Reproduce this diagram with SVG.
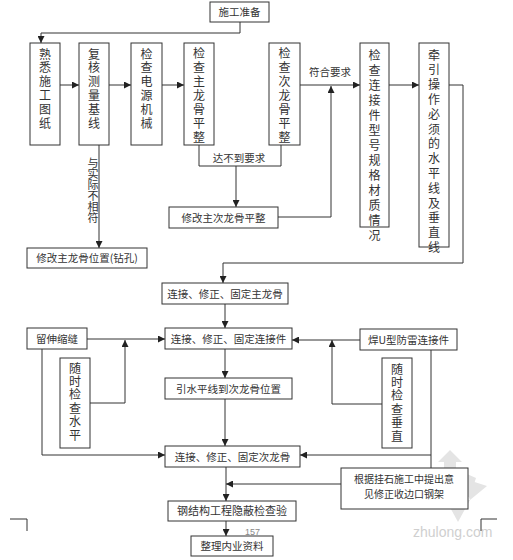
<svg xmlns="http://www.w3.org/2000/svg" width="513" height="560" viewBox="0 0 513 560">
<style>
.box{fill:#fff;stroke:#333;stroke-width:1}
.ln{fill:none;stroke:#333;stroke-width:1}
.arr{marker-end:url(#ah)}
text{font-family:"Noto Sans CJK SC","Liberation Sans",sans-serif;fill:#333}
.h{font-size:10.5px;text-anchor:middle}
.v{font-size:12px;writing-mode:vertical-rl;text-anchor:start}
.lbl{font-size:10.5px;text-anchor:middle}
.wm{font-family:"Liberation Sans",sans-serif;font-size:14px;fill:#cfcfcf}
</style>
<defs>
<marker id="ah" viewBox="0 0 8 8" refX="8" refY="4" markerWidth="7" markerHeight="7" markerUnits="userSpaceOnUse" orient="auto">
<path d="M0,0 L8,4 L0,8 z" fill="#222"/>
</marker>
</defs>
<rect width="513" height="560" fill="#fff"/>
<g id="watermark" fill="#e4e4e4">
<polygon points="450,450 462,462 456,462 456,474 444,474 444,462 438,462"/>
<polygon points="440,478 458,470 476,478 470,496 458,504 446,496"/>
<polygon points="462,478 487,486 470,500"/>
<polygon points="446,500 470,500 458,522"/>
<text class="wm" x="413" y="537">zhulong.com</text>
</g>
<g id="marks">
<path class="ln" d="M10,519 H27 V531"/>
<path class="ln" d="M497,519 H481 V531"/>
</g>
<text x="245" y="535" style="font-family:'Liberation Sans',sans-serif;font-size:9px;fill:#888">157</text>
<g id="connectors">
<path class="ln arr" d="M240,22 V33 H41 V43"/>
<path class="ln arr" d="M60,85 H79"/>
<path class="ln arr" d="M109,85 H131"/>
<path class="ln arr" d="M162,85 H184"/>
<path class="ln" d="M199,145 V166 H281 V145"/>
<path class="ln arr" d="M236,166 V207"/>
<path class="ln arr" d="M278,217 H331 V86"/>
<path class="ln arr" d="M300,85 H360"/>
<path class="ln arr" d="M389,85 H419"/>
<path class="ln arr" d="M449,85 H463 V263 H223 V283"/>
<path class="ln arr" d="M99,145 V248"/>
<path class="ln arr" d="M225,304 V328"/>
<path class="ln arr" d="M87,339 H165"/>
<path class="ln arr" d="M90,403 H125 V340"/>
<path class="ln arr" d="M42,349 V455 H165"/>
<path class="ln arr" d="M360,340 H292"/>
<path class="ln arr" d="M382,404 H332 V340"/>
<path class="ln" d="M431,350 V468"/>
<path class="ln arr" d="M431,455 H300"/>
<path class="ln arr" d="M225,349 V378"/>
<path class="ln arr" d="M225,399 V446"/>
<path class="ln arr" d="M226,467 V501"/>
<path class="ln arr" d="M341,484 H226"/>
<path class="ln arr" d="M226,521 V536"/>
<text class="lbl" x="239" y="162">达不到要求</text>
<text class="lbl" x="330" y="76">符合要求</text>
<text x="93" y="157.5" style="font-size:11px;writing-mode:vertical-rl">与实际不相符</text>
</g>
<g id="prep"><rect class="box" x="210" y="2" width="59" height="20"/><text class="h" x="239.5" y="16">施工准备</text></g>
<g id="b1"><rect class="box" x="30" y="43" width="30" height="102"/><text class="v" x="45" y="48" letter-spacing="1.8">熟悉施工图纸</text></g>
<g id="b2"><rect class="box" x="79" y="43" width="30" height="102"/><text class="v" x="94" y="48" letter-spacing="1.8">复核测量基线</text></g>
<g id="b3"><rect class="box" x="131" y="43" width="31" height="102"/><text class="v" x="146.5" y="48" letter-spacing="1.8">检查电源机械</text></g>
<g id="b4"><rect class="box" x="184" y="43" width="30" height="102"/><text class="v" x="199" y="47" letter-spacing="2">检查主龙骨平整</text></g>
<g id="b5"><rect class="box" x="269" y="43" width="31" height="102"/><text class="v" x="284.5" y="47" letter-spacing="2">检查次龙骨平整</text></g>
<g id="b6"><rect class="box" x="360" y="43" width="29" height="184"/><text class="v" x="374.5" y="49" letter-spacing="3">检查连接件型号规格材质情况</text></g>
<g id="b7"><rect class="box" x="419" y="43" width="30" height="204"/><text class="v" x="434" y="49" letter-spacing="2.8">牵引操作必须的水平线及垂直线</text></g>
<g id="fix1"><rect class="box" x="169" y="207" width="109" height="21"/><text class="h" x="223.5" y="221.5">修改主次龙骨平整</text></g>
<g id="fix2"><rect class="box" x="27" y="248" width="120" height="20"/><text class="h" x="87" y="262">修改主龙骨位置(钻孔)</text></g>
<g id="m1"><rect class="box" x="162" y="283" width="126" height="21"/><text class="h" x="225" y="297.5">连接、修正、固定主龙骨</text></g>
<g id="m2"><rect class="box" x="165" y="328" width="127" height="21"/><text class="h" x="228.5" y="342.5">连接、修正、固定连接件</text></g>
<g id="lf"><rect class="box" x="27" y="328" width="60" height="21"/><text class="h" x="57" y="342.5">留伸缩缝</text></g>
<g id="hu"><rect class="box" x="360" y="329" width="97" height="21"/><text class="h" x="408.5" y="343.5">焊U型防雷连接件</text></g>
<g id="sh"><rect class="box" x="60" y="358" width="30" height="90"/><text class="v" x="75" y="362" letter-spacing="1.4">随时检查水平</text></g>
<g id="sv"><rect class="box" x="382" y="358" width="30" height="90"/><text class="v" x="397" y="363" letter-spacing="1.4">随时检查垂直</text></g>
<g id="m3"><rect class="box" x="165" y="378" width="127" height="21"/><text class="h" x="228.5" y="392.5">引水平线到次龙骨位置</text></g>
<g id="m4"><rect class="box" x="165" y="446" width="135" height="21"/><text class="h" x="232.5" y="460.5">连接、修正、固定次龙骨</text></g>
<g id="gj"><rect class="box" x="341" y="468" width="127" height="41"/><text class="h" style="font-size:10px"><tspan x="404" y="482.5">根据挂石施工中提出意</tspan><tspan x="404" y="497.5">见修正收边口钢架</tspan></text></g>
<g id="st"><rect class="box" x="168" y="501" width="128" height="20"/><text class="h" x="232" y="515" style="font-size:11px">钢结构工程隐蔽检查验</text></g>
<g id="zl"><rect class="box" x="191" y="536" width="82" height="20"/><text class="h" x="232" y="550">整理内业资料</text></g>
</svg>
